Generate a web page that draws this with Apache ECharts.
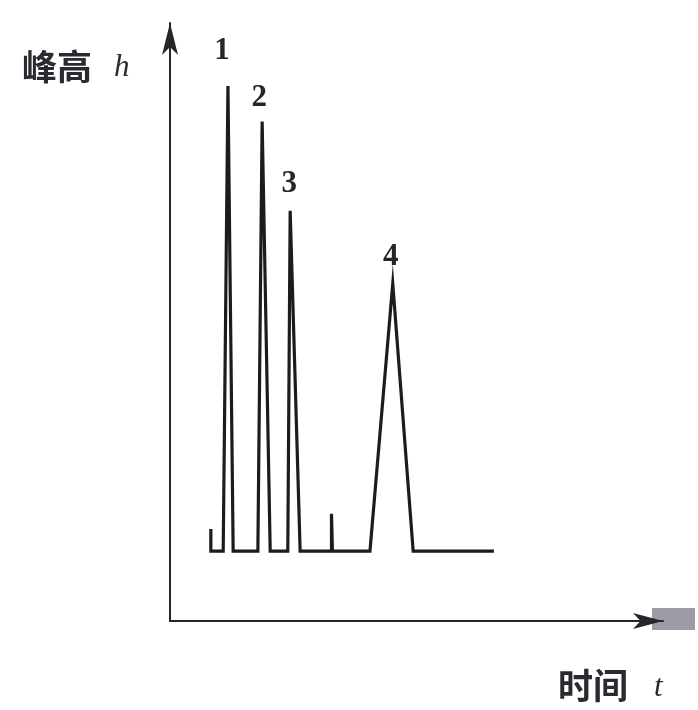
<!DOCTYPE html>
<html>
<head>
<meta charset="utf-8">
<script src="https://cdn.jsdelivr.net/npm/echarts@6/dist/echarts.min.js"></script>
<style>
html,body{margin:0;padding:0;background:#fff;}
#main{width:698px;height:710px;}
</style>
</head>
<body>
<div id="main"></div>
<script>
// Chromatogram trace: time t (arbitrary units) and peak height h (arbitrary units)
var traceTime   = [8.6, 8.6, 11.2, 12.2, 13.3, 18.5, 19.4, 21.1, 24.8, 25.3, 27.4, 34.0, 34.0, 34.2, 42.1, 46.9, 51.2, 68.2];
var traceHeight = [15.8, 12.0, 12.0, 91.8, 12.0, 12.0, 85.7, 12.0, 12.0, 70.4, 12.0, 12.0, 18.4, 12.0, 12.0, 57.9, 12.0, 12.0];
// Peak labels
var peakNames  = ['1', '2', '3', '4'];
var peakTime   = [12.2, 19.4, 25.3, 46.9];
var peakHeight = [91.8, 85.7, 70.4, 57.9];
var yAxisTitle = '峰高';
var yAxisVar = 'h';
var xAxisTitle = '时间';
var xAxisVar = 't';

var labelOffsets = [[-6, -35], [-3, -24], [-1, -27], [-2, -27]];

var chart = echarts.init(document.getElementById('main'));
var line = traceTime.map(function (t, i) { return [t, traceHeight[i]]; });
var peaks = peakNames.map(function (n, i) {
  return {
    value: [peakTime[i], peakHeight[i]],
    name: n,
    label: { offset: labelOffsets[i] }
  };
});

var textColor = '#2a2a30';

chart.setOption({
  backgroundColor: '#ffffff',
  animation: false,
  grid: { left: 170, right: 35, top: 23, bottom: 89, containLabel: false },
  xAxis: {
    type: 'value', min: 0, max: 103.8,
    axisLine: { show: true, onZero: false, symbol: ['none', 'arrow'], symbolSize: [12, 30],
      lineStyle: { color: '#26262a', width: 2 } },
    axisTick: { show: false }, axisLabel: { show: false }, splitLine: { show: false }
  },
  yAxis: {
    type: 'value', min: 0, max: 102.6,
    axisLine: { show: true, onZero: false, symbol: ['none', 'arrow'], symbolSize: [12, 32],
      lineStyle: { color: '#26262a', width: 2 } },
    axisTick: { show: false }, axisLabel: { show: false }, splitLine: { show: false }
  },
  series: [
    {
      type: 'line', data: line, showSymbol: false, symbol: 'none',
      lineStyle: { color: '#1c1c20', width: 3.2, join: 'miter', miterLimit: 40 },
      silent: true
    },
    {
      type: 'scatter', data: peaks, symbolSize: 1,
      itemStyle: { opacity: 0 },
      label: {
        show: true, position: 'inside', formatter: '{b}', opacity: 1,
        fontFamily: 'Liberation Serif', fontWeight: 'bold', fontSize: 31, color: '#26262a'
      },
      silent: true
    }
  ],
  graphic: [
    {
      type: 'text', left: 22, top: 49,
      style: { text: yAxisTitle, fontFamily: 'Noto Sans CJK SC', fontWeight: 'bold', fontSize: 35, fill: textColor }
    },
    {
      type: 'text', left: 114, top: 52,
      style: { text: yAxisVar, fontFamily: 'Liberation Serif', fontStyle: 'italic', fontSize: 31, fill: textColor }
    },
    {
      type: 'text', left: 558, top: 668,
      style: { text: xAxisTitle, fontFamily: 'Noto Sans CJK SC', fontWeight: 'bold', fontSize: 35, fill: textColor }
    },
    {
      type: 'text', left: 654, top: 672,
      style: { text: xAxisVar, fontFamily: 'Liberation Serif', fontStyle: 'italic', fontSize: 31, fill: textColor }
    },
    {
      type: 'rect', shape: { x: 652, y: 608, width: 43, height: 22 },
      style: { fill: '#9d9ba6' }
    }
  ]
});
</script>
</body>
</html>
